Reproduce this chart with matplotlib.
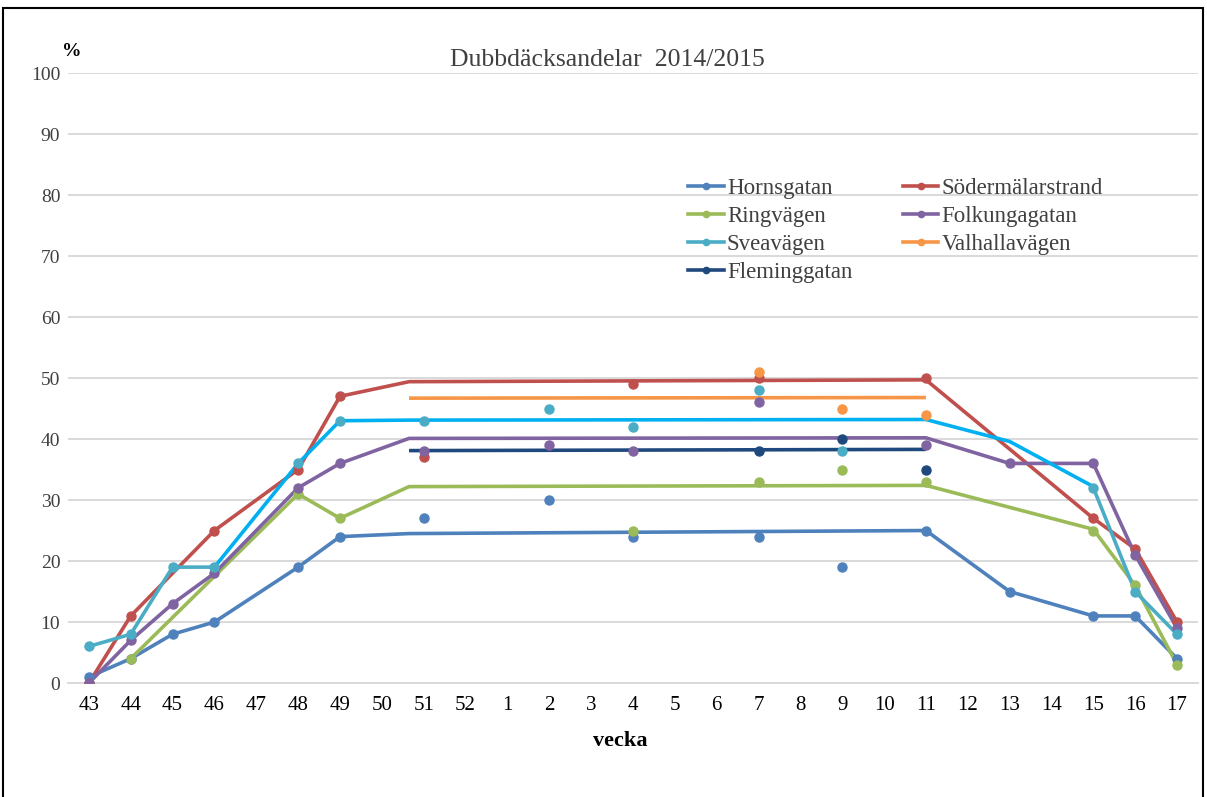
#########################################
# 1. Import required Libraries
#########################################

import numpy as np
import matplotlib
matplotlib.use("Agg")
import matplotlib.pyplot as plt
from matplotlib.lines import Line2D
from matplotlib.patches import Rectangle

#########################################
# 2. Data
#########################################

weeks = [43, 44, 45, 46, 47, 48, 49, 50, 51, 52,
         1, 2, 3, 4, 5, 6, 7, 8, 9, 10, 11, 12, 13, 14, 15, 16, 17]

# position of each week on the category axis
x_of = {w: i for i, w in enumerate(weeks)}
# the winter level lines start between week 50 and 51
x_of["start"] = 7.65

# Hornsgatan
horn_line_w = [43, 44, 45, 46, 48, 49, "start", 11, 13, 15, 16, 17]
horn_line = [1, 4, 8, 10, 19, 24, 24.5, 25, 15, 11, 11, 4]
horn_dot_w = [43, 44, 45, 46, 48, 49, 51, 2, 4, 7, 9, 11, 13, 15, 16, 17]
horn_dot = [1, 4, 8, 10, 19, 24, 27, 30, 24, 24, 19, 25, 15, 11, 11, 4]

# Södermälarstrand
soder_line_w = [43, 44, 46, 48, 49, "start", 11, 15, 16, 17]
soder_line = [0, 11, 25, 35, 47, 49.4, 49.7, 27, 22, 10]
soder_dot_w = [43, 44, 46, 48, 49, 51, 4, 7, 11, 15, 16, 17]
soder_dot = [0, 11, 25, 35, 47, 37, 49, 50, 50, 27, 22, 10]

# Ringvägen
ring_line_w = [44, 48, 49, "start", 11, 15, 16, 17]
ring_line = [4, 31, 27, 32.2, 32.4, 25.2, 16, 3]
ring_dot_w = [44, 48, 49, 4, 7, 9, 11, 15, 16, 17]
ring_dot = [4, 31, 27, 25, 33, 35, 33, 25, 16, 3]

# Folkungagatan
folk_line_w = [43, 44, 45, 46, 48, 49, "start", 11, 13, 15, 16, 17]
folk_line = [0, 7, 13, 18, 32, 36, 40.1, 40.2, 36, 36, 21, 9]
folk_dot_w = [43, 44, 45, 46, 48, 49, 51, 2, 4, 7, 11, 13, 15, 16, 17]
folk_dot = [0, 7, 13, 18, 32, 36, 38, 39, 38, 46, 39, 36, 36, 21, 9]

# Sveavägen (measured line has a gap, plus a separate level line)
svea_line_w = [43, 44, 45, 46, 49, 15, 16, 17]
svea_line = [6, 8, 19, 19, np.nan, 32, 15, 8]
svea_dot_w = [43, 44, 45, 46, 48, 49, 51, 2, 4, 7, 9, 15, 16, 17]
svea_dot = [6, 8, 19, 19, 36, 43, 43, 45, 42, 48, 38, 32, 15, 8]
svea_level_w = [46, 48, 49, "start", 11, 13, 15]
svea_level = [19, 36, 43, 43.1, 43.2, 39.6, 32.2]

# Valhallavägen
valh_line_w = ["start", 11]
valh_line = [46.7, 46.8]
valh_dot_w = [7, 9, 11]
valh_dot = [51, 45, 44]

# Fleminggatan
flem_line_w = ["start", 11]
flem_line = [38.1, 38.3]
flem_dot_w = [7, 9, 11]
flem_dot = [38, 40, 35]

#########################################
# 3. Plot
#########################################

plt.rcParams["font.family"] = ["Liberation Serif", "DejaVu Serif"]

fig = plt.figure(figsize=(12.07, 7.97), dpi=100)
ax = fig.add_axes([0.0563, 0.143, 0.9362, 0.7654])

series = [
    ("Hornsgatan", "#4F81BD", horn_line_w, horn_line, horn_dot_w, horn_dot),
    ("Södermälarstrand", "#C0504D", soder_line_w, soder_line, soder_dot_w, soder_dot),
    ("Ringvägen", "#9BBB59", ring_line_w, ring_line, ring_dot_w, ring_dot),
    ("Folkungagatan", "#8064A2", folk_line_w, folk_line, folk_dot_w, folk_dot),
    ("Sveavägen", "#4BACC6", svea_line_w, svea_line, svea_dot_w, svea_dot),
    ("Valhallavägen", "#F79646", valh_line_w, valh_line, valh_dot_w, valh_dot),
    ("Fleminggatan", "#1F497D", flem_line_w, flem_line, flem_dot_w, flem_dot),
]

handles = {}
for name, color, lw_, lv, dw, dv in series:
    ax.plot([x_of[w] for w in lw_], lv, color=color, lw=2.6,
            solid_capstyle="butt", zorder=3)
    ax.plot([x_of[w] for w in dw], dv, "o", color=color, ms=6.5,
            mec=color, zorder=4)
    handles[name] = Line2D([], [], color=color, lw=2.6, marker="o", ms=4.5)
    if name == "Sveavägen":
        ax.plot([x_of[w] for w in svea_level_w], svea_level, color="#00B0F0",
                lw=2.6, zorder=3)

ax.set_xlim(-0.5, len(weeks) - 0.5)
ax.set_ylim(0, 100)
ax.set_xticks(range(len(weeks)))
ax.set_xticklabels([str(w) for w in weeks], fontsize=15)
ax.set_yticks(range(0, 101, 10))
ax.tick_params(axis="y", labelsize=14, length=0, pad=5.5, labelcolor="#404040")
ax.tick_params(axis="x", length=0, pad=9)

ax.grid(axis="y", color="#D9D9D9", lw=1.4)
ax.set_axisbelow(True)
for side in ["top", "right", "left"]:
    ax.spines[side].set_visible(False)
ax.spines["bottom"].set_color("#D9D9D9")
ax.spines["bottom"].set_linewidth(1.4)

# legend filled row by row, two columns
order = ["Hornsgatan", "Ringvägen", "Sveavägen", "Fleminggatan",
         "Södermälarstrand", "Folkungagatan", "Valhallavägen"]
leg = fig.legend([handles[n] for n in order], order, ncol=2,
                 loc="upper left", bbox_to_anchor=(688 / 1207, 1 - 178 / 797),
                 frameon=False, fontsize=16.5, handlelength=1.55,
                 handletextpad=0.15, columnspacing=2.2, labelspacing=0.3,
                 borderpad=0, borderaxespad=0)
for t in leg.get_texts():
    t.set_color("#404040")

fig.text(0.503, 1 - 60 / 797, "Dubbdäcksandelar  2014/2015", fontsize=18.5,
         color="#404040", ha="center", va="center")
fig.text(72 / 1207, 1 - 52 / 797, "%", fontsize=14, fontweight="bold",
         ha="center", va="center")
fig.text(620 / 1207, 1 - 741 / 797, "vecka", fontsize=16, fontweight="bold",
         ha="center", va="center")

# outer frame
fig.patches.append(Rectangle((3 / 1207, -0.02), 1200 / 1207, (797 - 8) / 797 + 0.02,
                             transform=fig.transFigure, fill=False,
                             edgecolor="black", lw=1.5, clip_on=False))

fig.savefig("out.png", dpi=100)
